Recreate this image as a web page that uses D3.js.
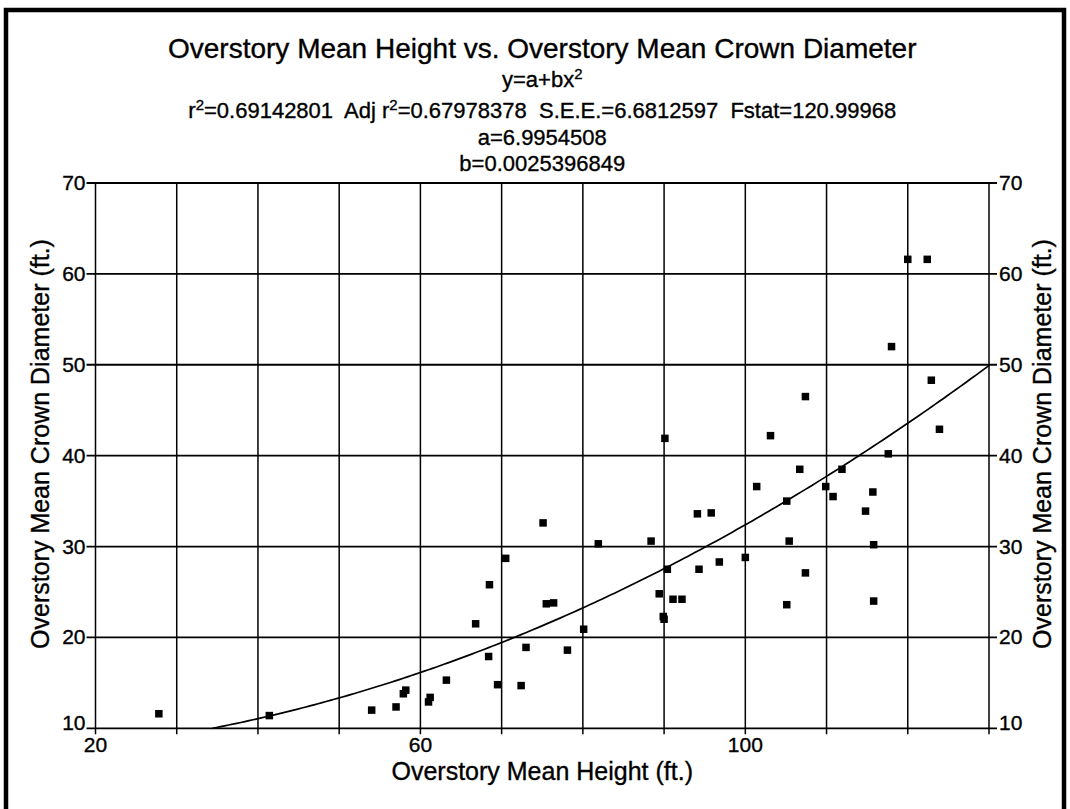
<!DOCTYPE html>
<html>
<head>
<meta charset="utf-8">
<script src="https://cdn.jsdelivr.net/npm/d3@7"></script>
<style>
  html, body { margin: 0; padding: 0; background: #fff; }
  svg { display: block; }
  text { font-family: "Liberation Sans", Arial, Helvetica, sans-serif; fill: #000; stroke: #000; stroke-width: 0.35px; }
</style>
</head>
<body>
<svg id="chart" width="1070" height="809"></svg>
<script>
// ---- data ----
const heights = [27.8, 41.4, 54.0, 57.0, 57.9, 58.2, 61.0, 61.2, 63.2, 66.8,
  68.4, 68.5, 69.5, 70.5, 72.4, 73.0, 75.1, 75.5, 76.4, 78.1,
  80.1, 81.9, 88.4, 89.4, 89.9, 90.0, 90.4, 90.1, 91.1, 92.2,
  94.1, 94.3, 95.8, 96.8, 100.0, 101.4, 103.1, 105.1, 105.1, 105.4,
  106.7, 107.4, 107.4, 109.9, 110.8, 111.9, 114.8, 115.7, 115.8, 115.8,
  117.6, 118.0, 120.0, 122.4, 122.9, 123.9];
const crownDiameters = [11.6, 11.4, 12.0, 12.35, 13.8, 14.2, 12.9, 13.4, 15.3, 21.5,
  17.9, 25.8, 14.8, 28.7, 14.7, 18.9, 32.6, 23.7, 23.8, 18.6,
  20.9, 30.3, 30.6, 24.8, 22.3, 22.0, 27.5, 41.9, 24.2, 24.2,
  33.6, 27.5, 33.7, 28.3, 28.8, 36.6, 42.2, 35.0, 23.6, 30.6,
  38.5, 46.5, 27.1, 36.6, 35.5, 38.5, 33.9, 36.0, 30.2, 24.0,
  40.2, 52.0, 61.6, 61.6, 48.3, 42.9];
const fitA = 6.9954508;
const fitB = 0.0025396849;
const xDomain = [20, 130];
const yDomain = [10, 70];
const xGridValues = [20, 30, 40, 50, 60, 70, 80, 90, 100, 110, 120, 130];
const xTickLabels = [20, 60, 100];
const yTickValues = [10, 20, 30, 40, 50, 60, 70];
const titleText = "Overstory Mean Height vs. Overstory Mean Crown Diameter";
const statsLine = ["r", "2", "=0.69142801  Adj r", "2", "=0.67978378  S.E.E.=6.6812597  Fstat=120.99968"];
const aLine = "a=6.9954508";
const bLine = "b=0.0025396849";
const xTitle = "Overstory Mean Height (ft.)";
const yTitle = "Overstory Mean Crown Diameter (ft.)";

// ---- layout ----
const svg = d3.select("#chart");
const L = 95.5, R = 989, T = 183, B = 728.3;
const x = d3.scaleLinear().domain(xDomain).range([L, R]);
const y = d3.scaleLinear().domain(yDomain).range([B, T]);

svg.append("rect").attr("width", 1070).attr("height", 809).attr("fill", "#fff");

// outer frame
svg.append("rect")
  .attr("x", 6).attr("y", 10).attr("width", 1058).attr("height", 830)
  .attr("fill", "none").attr("stroke", "#000").attr("stroke-width", 4.5);

// titles
const cx = (L + R) / 2;
svg.append("text").attr("x", cx).attr("y", 58).attr("text-anchor", "middle")
  .attr("font-size", 28).text(titleText);

const eq = svg.append("text").attr("x", cx).attr("y", 87).attr("text-anchor", "middle")
  .attr("font-size", 22);
eq.append("tspan").text("y=a+bx");
eq.append("tspan").attr("font-size", 15).attr("dy", -8).text("2");

const st = svg.append("text").attr("x", cx).attr("y", 118).attr("text-anchor", "middle")
  .attr("font-size", 22).style("white-space", "pre");
statsLine.forEach((s, i) => {
  const sup = (i % 2 === 1);
  const t = st.append("tspan").text(s);
  if (sup) t.attr("font-size", 15).attr("dy", -8);
  else if (i > 0) t.attr("dy", 8);
});

svg.append("text").attr("x", cx).attr("y", 145).attr("text-anchor", "middle")
  .attr("font-size", 22).text(aLine);
svg.append("text").attr("x", cx).attr("y", 171).attr("text-anchor", "middle")
  .attr("font-size", 22).text(bLine);

// grid
const g = svg.append("g");
g.selectAll("line.vx").data(xGridValues).enter().append("line")
  .attr("x1", d => x(d)).attr("x2", d => x(d)).attr("y1", T).attr("y2", B + 6)
  .attr("stroke", "#000").attr("stroke-width", 1.5);
g.selectAll("line.hy").data(yTickValues).enter().append("line")
  .attr("x1", L - 9).attr("x2", R + 8).attr("y1", d => y(d)).attr("y2", d => y(d))
  .attr("stroke", "#000").attr("stroke-width", 1.8);

// y labels left and right
svg.selectAll("text.yl").data(yTickValues).enter().append("text")
  .attr("x", L - 10).attr("y", d => y(d) + (d === 10 ? 2 : 7))
  .attr("text-anchor", "end").attr("font-size", 21).text(d => d);
svg.selectAll("text.yr").data(yTickValues).enter().append("text")
  .attr("x", R + 10).attr("y", d => y(d) + (d === 10 ? 2 : 7))
  .attr("text-anchor", "start").attr("font-size", 21).text(d => d);

// x labels
svg.selectAll("text.xl").data(xTickLabels).enter().append("text")
  .attr("x", d => x(d)).attr("y", B + 24)
  .attr("text-anchor", "middle").attr("font-size", 21).text(d => d);

// axis titles
svg.append("text").attr("x", cx).attr("y", 780).attr("text-anchor", "middle")
  .attr("font-size", 25).text(xTitle);
svg.append("text").attr("transform", "translate(49,444) rotate(-90)")
  .attr("text-anchor", "middle").attr("font-size", 25).text(yTitle);
svg.append("text").attr("transform", "translate(1051,444) rotate(-90)")
  .attr("text-anchor", "middle").attr("font-size", 25).text(yTitle);

// fit curve
const x0 = Math.sqrt((yDomain[0] - fitA) / fitB);
const curveXs = d3.range(x0, xDomain[1], 0.5).concat([xDomain[1]]);
svg.append("path")
  .datum(curveXs)
  .attr("fill", "none").attr("stroke", "#000").attr("stroke-width", 1.7)
  .attr("d", d3.line().x(d => x(d)).y(d => y(fitA + fitB * d * d)));

// points
const pts = heights.map((h, i) => ({ h, c: crownDiameters[i] }));
const s = 7.5;
svg.selectAll("rect.pt").data(pts).enter().append("rect")
  .attr("x", d => x(d.h) - s / 2).attr("y", d => y(d.c) - s / 2)
  .attr("width", s).attr("height", s).attr("fill", "#000");
</script>
</body>
</html>
